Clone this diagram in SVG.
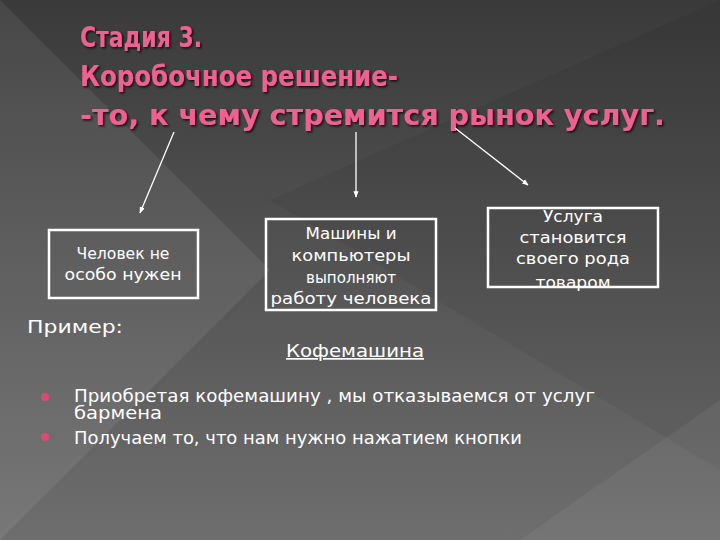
<svg xmlns="http://www.w3.org/2000/svg" width="720" height="540" viewBox="0 0 720 540">
<defs>
<linearGradient id="bg" x1="0" y1="0" x2="0" y2="1"><stop offset="0" stop-color="#3a3a3a"/><stop offset="1" stop-color="#6e6e6e"/></linearGradient>
<marker id="ah" viewBox="0 0 10 10" refX="9" refY="5" markerWidth="5" markerHeight="5" orient="auto"><path d="M0,1 L10,5 L0,9 z" fill="#fff"/></marker>
<filter id="sh"><feDropShadow dx="1.5" dy="1.5" stdDeviation="0.8" flood-color="#000" flood-opacity="0.8"/></filter>
<style>
.t{font-family:"DejaVu Sans",sans-serif;fill:#fff;font-size:15px;text-anchor:middle}
.b{font-family:"DejaVu Sans",sans-serif;fill:#fff;font-size:17px}
.h{font-family:"DejaVu Sans",sans-serif;font-weight:bold;fill:#f06090;font-size:28px}
.box{fill:none;stroke:#fff;stroke-width:2.5}
.c{stroke:#fff;stroke-width:1.3;fill:none;marker-end:url(#ah)}
</style>
</defs>
<rect width="720" height="540" fill="url(#bg)"/>
<polygon points="0,0 270,270 0,540" fill="#fff" opacity="0.07"/>
<polygon points="270,200 720,470 720,0 " fill="#000" opacity="0.05"/>
<polygon points="520,540 720,400 720,540" fill="#fff" opacity="0.05"/>
<g id="title" filter="url(#sh)">
<text class="h" x="80" y="47" textLength="122" lengthAdjust="spacingAndGlyphs">Стадия 3.</text>
<text class="h" x="80" y="86" textLength="318" lengthAdjust="spacingAndGlyphs">Коробочное решение-</text>
<text class="h" x="80" y="125" textLength="585" lengthAdjust="spacingAndGlyphs">-то, к чему стремится рынок услуг.</text>
</g>
<g id="connectors">
<line class="c" x1="174" y1="132" x2="140" y2="213"/>
<line class="c" x1="356" y1="132" x2="356" y2="197"/>
<line class="c" x1="455" y1="128" x2="528" y2="185"/>
</g>
<g id="n1"><rect class="box" x="49" y="230" width="149" height="68"/>
<text class="t" x="123" y="259" textLength="93" lengthAdjust="spacingAndGlyphs">Человек не</text><text class="t" x="123" y="280" textLength="117" lengthAdjust="spacingAndGlyphs">особо нужен</text></g>
<g id="n2"><rect class="box" x="266" y="219" width="170" height="91"/>
<text class="t" x="351" y="239" textLength="91" lengthAdjust="spacingAndGlyphs">Машины и</text><text class="t" x="351" y="261" textLength="119" lengthAdjust="spacingAndGlyphs">компьютеры</text><text class="t" x="351" y="283" textLength="90" lengthAdjust="spacingAndGlyphs">выполняют</text><text class="t" x="351" y="304" textLength="161" lengthAdjust="spacingAndGlyphs">работу человека</text></g>
<g id="n3"><rect class="box" x="488" y="208" width="170" height="79"/>
<text class="t" x="573" y="222" textLength="60" lengthAdjust="spacingAndGlyphs">Услуга</text><text class="t" x="573" y="243" textLength="107" lengthAdjust="spacingAndGlyphs">становится</text><text class="t" x="573" y="264" textLength="114" lengthAdjust="spacingAndGlyphs">своего рода</text><text class="t" x="573" y="288" textLength="75" lengthAdjust="spacingAndGlyphs">товаром</text></g>
<text class="b" x="27" y="333" textLength="96" lengthAdjust="spacingAndGlyphs">Пример:</text>
<text class="b" x="286" y="357" textLength="138" lengthAdjust="spacingAndGlyphs" text-decoration="underline">Кофемашина</text>
<g fill="#e04878"><circle cx="45" cy="397" r="4"/><circle cx="45" cy="437" r="4"/></g>
<text class="b" x="74" y="402" textLength="521" lengthAdjust="spacingAndGlyphs">Приобретая кофемашину , мы отказываемся от услуг</text>
<text class="b" x="74" y="419" textLength="88" lengthAdjust="spacingAndGlyphs">бармена</text>
<text class="b" x="74" y="444" textLength="448" lengthAdjust="spacingAndGlyphs">Получаем то, что нам нужно нажатием кнопки</text>
</svg>
